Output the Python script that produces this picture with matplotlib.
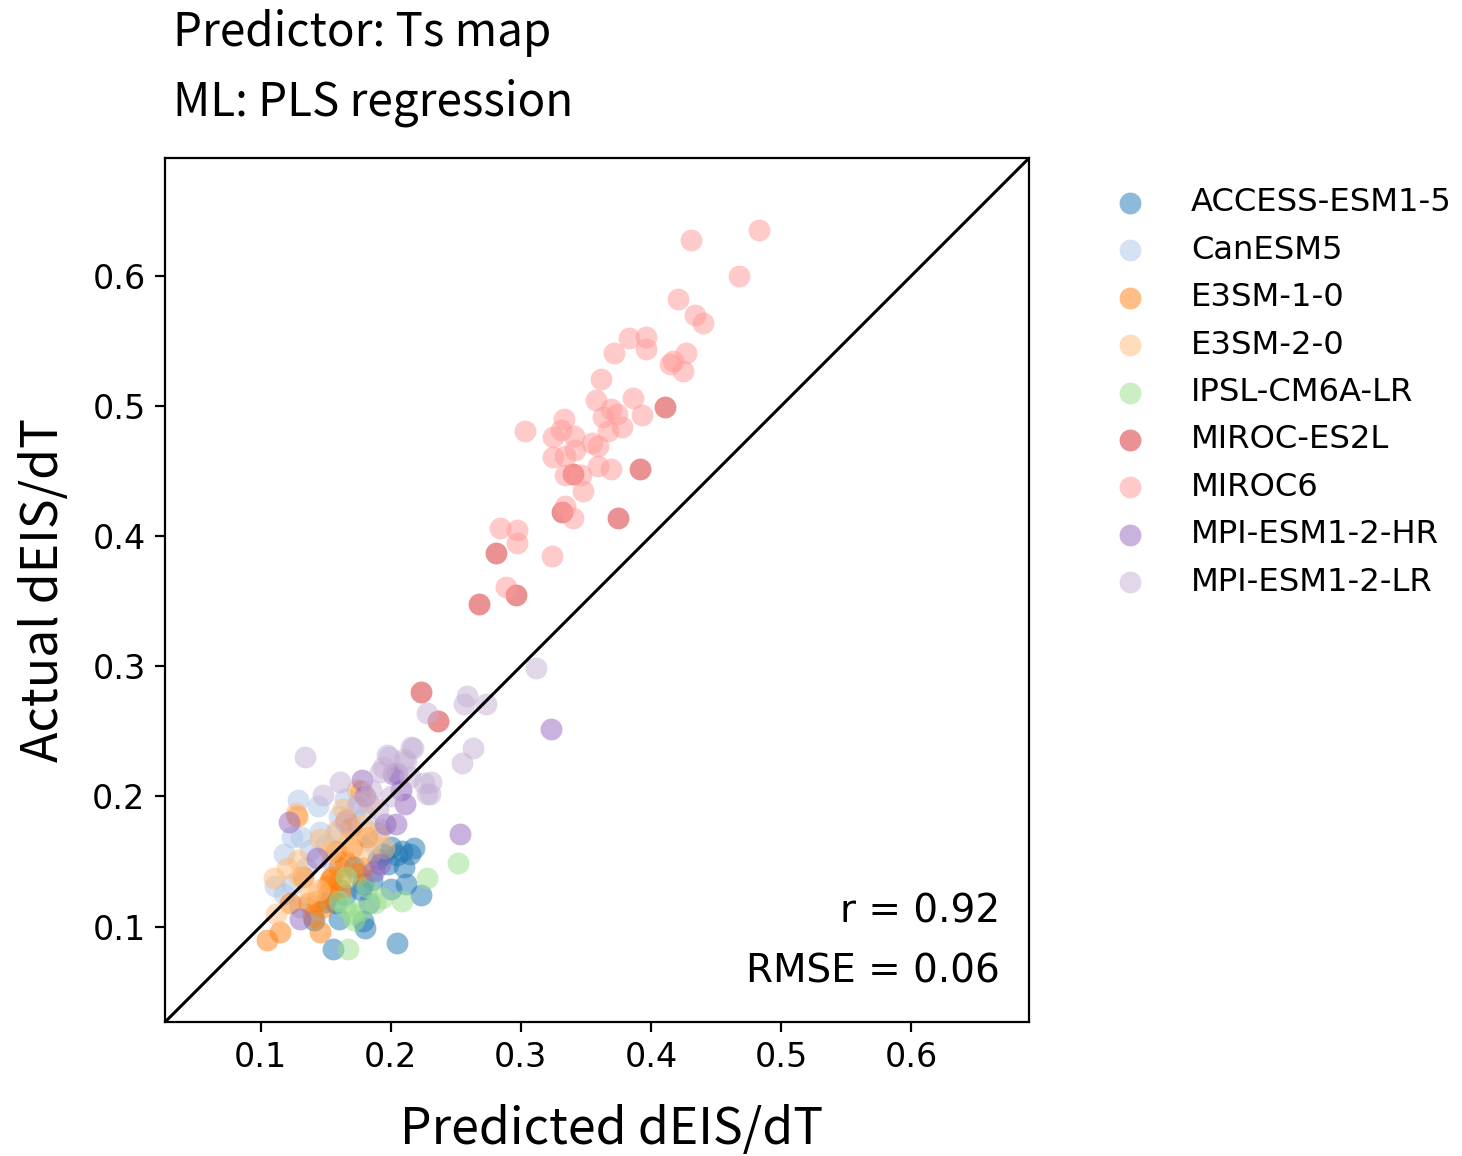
import numpy as np
import matplotlib
matplotlib.use('Agg')
import matplotlib.pyplot as plt

# model names and their tab20 colour index
models = ['ACCESS-ESM1-5', 'CanESM5', 'E3SM-1-0', 'E3SM-2-0', 'IPSL-CM6A-LR',
          'MIROC-ES2L', 'MIROC6', 'MPI-ESM1-2-HR', 'MPI-ESM1-2-LR']
color_idx = [0, 1, 2, 3, 5, 6, 7, 8, 9]

# (predicted, actual) dEIS/dT, one list per model
access = [(0.156, 0.083), (0.205, 0.087), (0.180, 0.099), (0.179, 0.104), (0.141, 0.105),
          (0.177, 0.128), (0.179, 0.133), (0.200, 0.129), (0.212, 0.133), (0.210, 0.146),
          (0.223, 0.124), (0.215, 0.156), (0.218, 0.160), (0.209, 0.158), (0.205, 0.155),
          (0.200, 0.161), (0.194, 0.156), (0.190, 0.152), (0.158, 0.118), (0.165, 0.124),
          (0.150, 0.119), (0.172, 0.146), (0.186, 0.136), (0.160, 0.106), (0.198, 0.148),
          (0.183, 0.118)]
canesm5 = [(0.111, 0.131), (0.118, 0.156), (0.124, 0.133), (0.124, 0.169), (0.131, 0.169),
           (0.129, 0.197), (0.144, 0.193), (0.146, 0.173), (0.138, 0.159), (0.158, 0.172),
           (0.150, 0.163), (0.174, 0.192), (0.165, 0.198), (0.180, 0.186), (0.170, 0.178),
           (0.135, 0.145), (0.118, 0.125), (0.155, 0.150), (0.185, 0.165), (0.130, 0.115),
           (0.160, 0.185), (0.192, 0.175)]
e3sm1 = [(0.105, 0.090), (0.115, 0.096), (0.146, 0.096), (0.123, 0.118), (0.137, 0.118),
         (0.148, 0.115), (0.143, 0.120), (0.152, 0.126), (0.153, 0.136), (0.151, 0.131),
         (0.161, 0.136), (0.155, 0.138), (0.160, 0.146), (0.179, 0.145), (0.182, 0.169),
         (0.169, 0.176), (0.166, 0.182), (0.177, 0.204), (0.158, 0.158), (0.165, 0.150),
         (0.170, 0.160), (0.133, 0.138), (0.140, 0.108), (0.128, 0.185), (0.162, 0.128),
         (0.175, 0.140)]
e3sm2 = [(0.110, 0.137), (0.112, 0.110), (0.130, 0.138), (0.127, 0.187), (0.129, 0.151),
         (0.146, 0.167), (0.138, 0.126), (0.159, 0.174), (0.174, 0.205), (0.183, 0.195),
         (0.183, 0.155), (0.168, 0.165), (0.178, 0.178), (0.190, 0.172), (0.120, 0.145),
         (0.153, 0.158), (0.195, 0.160), (0.163, 0.190), (0.145, 0.128)]
ipsl = [(0.167, 0.083), (0.252, 0.149), (0.166, 0.138), (0.177, 0.113), (0.170, 0.110),
        (0.188, 0.118), (0.193, 0.122), (0.209, 0.120), (0.228, 0.137), (0.160, 0.120),
        (0.172, 0.105), (0.182, 0.130), (0.165, 0.115)]
miroc_es2l = [(0.411, 0.499), (0.392, 0.452), (0.340, 0.448), (0.332, 0.419), (0.375, 0.414),
              (0.281, 0.387), (0.296, 0.355), (0.268, 0.348), (0.223, 0.280), (0.236, 0.258)]
miroc6 = [(0.483, 0.635), (0.431, 0.628), (0.468, 0.600), (0.421, 0.582), (0.434, 0.570),
          (0.440, 0.564), (0.383, 0.552), (0.396, 0.553), (0.396, 0.544), (0.372, 0.541),
          (0.427, 0.541), (0.417, 0.535), (0.415, 0.532), (0.425, 0.527), (0.362, 0.521),
          (0.358, 0.505), (0.386, 0.506), (0.369, 0.498), (0.374, 0.494), (0.363, 0.492),
          (0.393, 0.493), (0.378, 0.484), (0.367, 0.481), (0.333, 0.490), (0.331, 0.482),
          (0.303, 0.481), (0.325, 0.476), (0.341, 0.477), (0.355, 0.472), (0.359, 0.469),
          (0.342, 0.466), (0.334, 0.462), (0.325, 0.461), (0.359, 0.454), (0.369, 0.452),
          (0.334, 0.447), (0.346, 0.447), (0.348, 0.435), (0.334, 0.423), (0.340, 0.414),
          (0.284, 0.406), (0.297, 0.405), (0.297, 0.395), (0.324, 0.385), (0.289, 0.361)]
mpi_hr = [(0.323, 0.252), (0.253, 0.171), (0.122, 0.180), (0.178, 0.213), (0.202, 0.217),
          (0.205, 0.218), (0.211, 0.194), (0.204, 0.179), (0.196, 0.179), (0.143, 0.153),
          (0.187, 0.143), (0.130, 0.106), (0.192, 0.148), (0.180, 0.200), (0.208, 0.205)]
mpi_lr = [(0.312, 0.299), (0.228, 0.264), (0.259, 0.277), (0.256, 0.271), (0.273, 0.271),
          (0.263, 0.237), (0.255, 0.226), (0.217, 0.237), (0.199, 0.230), (0.134, 0.230),
          (0.212, 0.227), (0.161, 0.211), (0.148, 0.201), (0.231, 0.211), (0.228, 0.202),
          (0.194, 0.223), (0.192, 0.219), (0.216, 0.238), (0.197, 0.232), (0.210, 0.229),
          (0.226, 0.210), (0.230, 0.202), (0.185, 0.205), (0.175, 0.195), (0.200, 0.200),
          (0.215, 0.215), (0.190, 0.190), (0.165, 0.180)]

r_value = 0.92
rmse_value = 0.06
lims = [0.0266, 0.6907]

all_points = [access, canesm5, e3sm1, e3sm2, ipsl, miroc_es2l, miroc6, mpi_hr, mpi_lr]

label_font = ['Noto Sans CJK JP', 'DejaVu Sans']

fig = plt.figure(figsize=(7.31, 5.78), dpi=200)
ax = fig.add_axes([0.1129, 0.1159, 0.5910, 0.7474])

cmap = plt.get_cmap('tab20')
for name, ci, pts in zip(models, color_idx, all_points):
    pts = np.array(pts)
    ax.scatter(pts[:, 0], pts[:, 1], s=62, color=cmap(ci), alpha=0.5,
               linewidths=0, label=name)

# 1:1 line
ax.plot(lims, lims, color='k', lw=1.1)
ax.set_xlim(lims)
ax.set_ylim(lims)
ax.set_xticks([0.1, 0.2, 0.3, 0.4, 0.5, 0.6])
ax.set_yticks([0.1, 0.2, 0.3, 0.4, 0.5, 0.6])
ax.tick_params(labelsize=12)

ax.set_xlabel('Predicted dEIS/dT', family=label_font, fontsize=18, labelpad=12)
ax.xaxis.set_label_coords(0.517, -0.095)
ax.set_ylabel('Actual dEIS/dT', family=label_font, fontsize=18, labelpad=8)

ax.text(0.966, 0.1157, 'r = %.2f' % r_value, transform=ax.transAxes,
        ha='right', va='baseline', fontsize=14)
ax.text(0.966, 0.0463, 'RMSE = %.2f' % rmse_value, transform=ax.transAxes,
        ha='right', va='baseline', fontsize=14)

fig.text(0.118, 0.9605, 'Predictor: Ts map', family=label_font, fontsize=16.5, va='baseline')
fig.text(0.118, 0.9000, 'ML: PLS regression', family=label_font, fontsize=16.5, va='baseline')

ax.legend(loc='upper left', bbox_to_anchor=(1.065, 0.981), borderaxespad=0,
          frameon=False, fontsize=11.6, handletextpad=0.88, labelspacing=0.51)

fig.savefig('out.png', dpi=200)
